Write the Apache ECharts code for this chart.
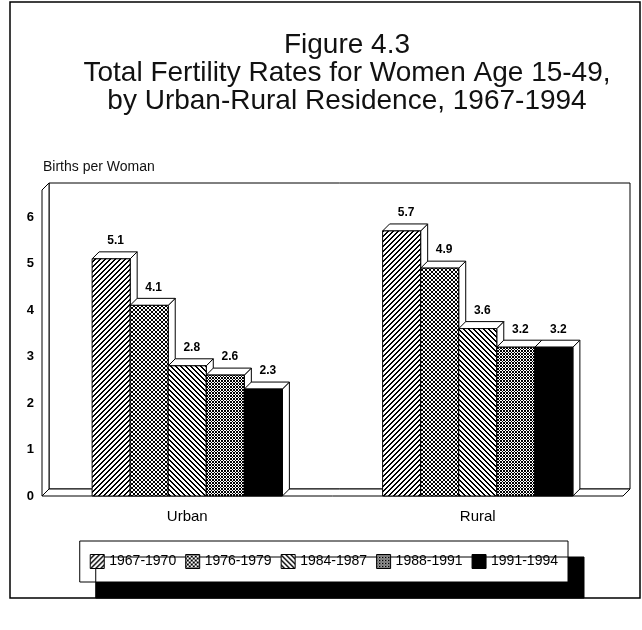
<!DOCTYPE html>
<html>
<head>
<meta charset="utf-8">
<title>Figure 4.3</title>
<script src="https://cdn.jsdelivr.net/npm/echarts@6.0.0/dist/echarts.min.js"></script>
<style>
	html, body { margin: 0; padding: 0; background: #fff; }
	#main { width: 642px; height: 630px; }
</style>
</head>
<body>
<div id="main"></div>
<script>
	// data
	var categories = ['Urban', 'Rural']
	var periods = ['1967-1970', '1976-1979', '1984-1987', '1988-1991', '1991-1994']
	var urban = [5.1, 4.1, 2.8, 2.6, 2.3]
	var rural = [5.7, 4.9, 3.6, 3.2, 3.2]
	var yTicks = [0, 1, 2, 3, 4, 5, 6]

	var font = 'Liberation Sans, Arial, Helvetica, sans-serif'
	// 3d depth of bars / walls
	var dx = 7
	var dy = -7

	// small hatch tiles, drawn pixel by pixel
	function makePattern(type) {
		var n = type == 'x3' ? 3 : (type == 'cross' ? 4 : 5)
		var c = document.createElement('canvas')
		c.width = n
		c.height = n
		var ctx = c.getContext('2d')
		ctx.fillStyle = '#fff'
		ctx.fillRect(0, 0, n, n)
		ctx.fillStyle = '#000'
		if (type == 'solid') {
			ctx.fillRect(0, 0, n, n)
			return c
		}
		for (var i = 0; i < n; i++) {
			if (type == 'fwd') {
				ctx.fillRect(i, n - 1 - i, 1, 1)
				ctx.fillRect(i, (2 * n - 2 - i) % n, 1, 1)
			} else if (type == 'back') {
				ctx.fillRect(i, i, 1, 1)
				ctx.fillRect(i, (i + 1) % n, 1, 1)
			} else {
				ctx.fillRect(i, i, 1, 1)
				ctx.fillRect(i, n - 1 - i, 1, 1)
			}
		}
		return c
	}

	var patternTypes = ['fwd', 'cross', 'back', 'x3', 'solid']
	var fills = patternTypes.map(function (t) {
		return { image: makePattern(t), repeat: 'repeat' }
	})

	var chart = echarts.init(document.getElementById('main'), null, { renderer: 'canvas' })

	// back wall, left wall and floor of the 3d box
	function renderFrame(params, api) {
		var cs = params.coordSys
		var x = cs.x, y = cs.y, w = cs.width, h = cs.height
		var top = y - 34
		var floorFront = y + h
		var floorBack = floorFront + dy
		var st = { fill: '#fff', stroke: '#000', lineWidth: 1 }
		return {
			type: 'group',
			children: [{
				type: 'polygon',
				shape: { points: [[x + dx, top], [x + w + dx, top], [x + w + dx, floorBack], [x + dx, floorBack]] },
				style: st
			}, {
				type: 'polygon',
				shape: { points: [[x, top - dy], [x + dx, top], [x + dx, floorBack], [x, floorFront]] },
				style: st
			}, {
				type: 'polygon',
				shape: { points: [[x, floorFront], [x + w, floorFront], [x + w + dx, floorBack], [x + dx, floorBack]] },
				style: st
			}]
		}
	}

	function barRenderer(s) {
		return function (params, api) {
			var cat = api.value(0)
			var val = api.value(1)
			var topPt = api.coord([cat, val])
			var basePt = api.coord([cat, 0])
			var band = api.size([1, 0])[0]
			var bw = band * 0.131
			var x0 = topPt[0] - 2.5 * bw + s * bw
			var top = topPt[1]
			var bottom = basePt[1]
			var z = s * 10
			return {
				type: 'group',
				children: [{
					type: 'polygon',
					z2: z,
					shape: { points: [[x0 + bw, top], [x0 + bw + dx, top + dy], [x0 + bw + dx, bottom + dy], [x0 + bw, bottom]] },
					style: { fill: '#fff', stroke: '#000', lineWidth: 1 }
				}, {
					type: 'polygon',
					z2: z + 1,
					shape: { points: [[x0, top], [x0 + dx, top + dy], [x0 + bw + dx, top + dy], [x0 + bw, top]] },
					style: { fill: '#fff', stroke: '#000', lineWidth: 1 }
				}, {
					type: 'rect',
					z2: z + 2,
					shape: { x: x0, y: top, width: bw, height: bottom - top },
					style: { fill: fills[s], stroke: '#000', lineWidth: 1 }
				}, {
					type: 'text',
					z2: 100,
					x: x0 + bw / 2 + dx / 2 + 1,
					y: top + dy - 5,
					style: {
						text: val.toFixed(1),
						fill: '#000',
						font: 'bold 12px ' + font,
						align: 'center',
						verticalAlign: 'bottom'
					}
				}]
			}
		}
	}

	var series = [{
		type: 'custom',
		name: 'frame',
		z: 1,
		silent: true,
		renderItem: renderFrame,
		data: [[0, 0]]
	}]
	for (var s = 0; s < periods.length; s++) {
		series.push({
			type: 'custom',
			name: periods[s],
			itemStyle: { color: fills[s] },
			renderItem: barRenderer(s),
			data: [[0, urban[s]], [1, rural[s]]]
		})
	}

	var option = {
		animation: false,
		backgroundColor: '#fff',
		title: [{
			text: 'Figure 4.3\nTotal Fertility Rates for Women Age 15-49,\nby Urban-Rural Residence, 1967-1994',
			left: 342,
			textAlign: 'center',
			top: 26,
			textStyle: {
				fontFamily: font,
				fontSize: 28,
				fontWeight: 'normal',
				lineHeight: 28,
				color: '#111'
			}
		}, {
			text: 'Births per Woman',
			left: 38,
			top: 155,
			textStyle: {
				fontFamily: font,
				fontSize: 14,
				fontWeight: 'normal',
				color: '#111'
			}
		}],
		graphic: [{
			type: 'rect',
			shape: { x: 10, y: 2, width: 630, height: 596 },
			style: { fill: 'none', stroke: '#000', lineWidth: 1.5 },
			silent: true
		}],
		legend: {
			data: periods,
			right: 74,
			top: 541,
			icon: 'rect',
			itemWidth: 14,
			itemHeight: 14,
			itemGap: 9,
			padding: [13, 10, 13, 10],
			backgroundColor: '#fff',
			borderColor: '#000',
			borderWidth: 1,
			shadowColor: '#000',
			shadowBlur: 0,
			shadowOffsetX: 16,
			shadowOffsetY: 16,
			itemStyle: { borderColor: '#000', borderWidth: 1 },
			textStyle: {
				fontFamily: font,
				fontSize: 14,
				color: '#000'
			},
			selectedMode: false
		},
		grid: {
			left: 42,
			right: 19,
			top: 217,
			bottom: 134
		},
		xAxis: {
			type: 'category',
			data: categories,
			axisLine: { show: false },
			axisTick: { show: false },
			splitLine: { show: false },
			axisLabel: {
				margin: 13,
				fontFamily: font,
				fontSize: 15,
				color: '#000'
			}
		},
		yAxis: {
			type: 'value',
			min: yTicks[0],
			max: yTicks[yTicks.length - 1],
			interval: 1,
			axisLine: { show: false },
			axisTick: { show: false },
			splitLine: { show: false },
			axisLabel: {
				margin: 8,
				fontFamily: font,
				fontSize: 13,
				fontWeight: 'bold',
				color: '#000'
			}
		},
		series: series
	}

	chart.setOption(option)
</script>
</body>
</html>
